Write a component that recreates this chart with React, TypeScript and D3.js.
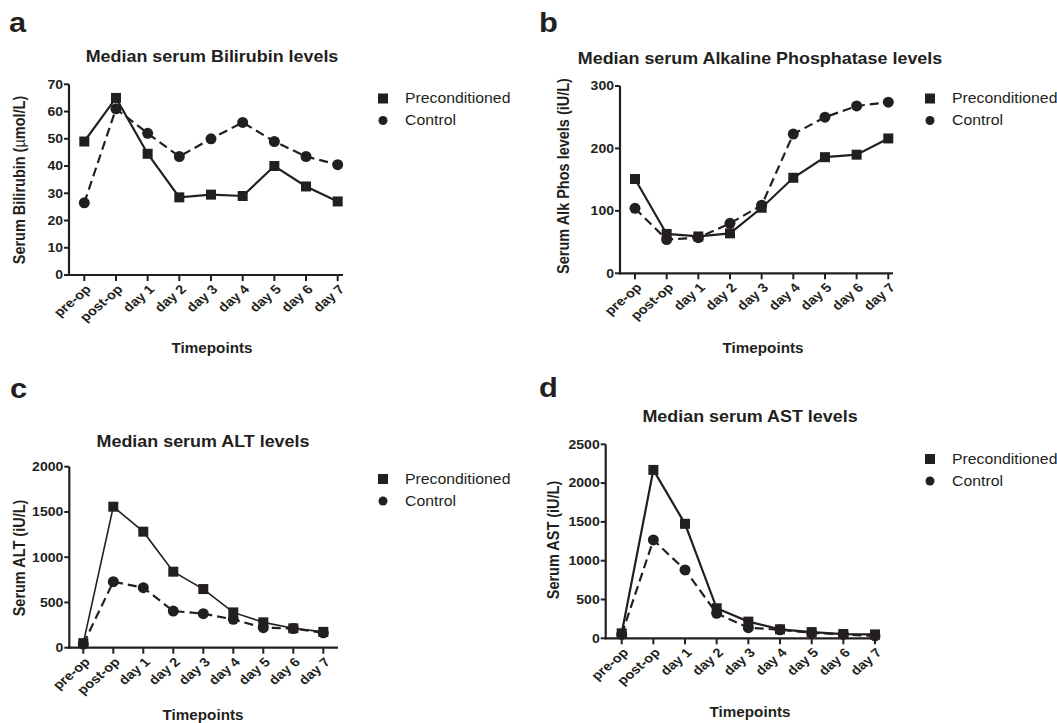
import React from "react";
import * as d3 from "d3";

const timepoints = ["pre-op", "post-op", "day 1", "day 2", "day 3", "day 4", "day 5", "day 6", "day 7"];

const biliPre = [49, 65, 44.5, 28.5, 29.5, 29, 40, 32.5, 27];
const biliCtl = [26.5, 61, 52, 43.5, 50, 56, 49, 43.5, 40.5];
const biliTicks = [0, 10, 20, 30, 40, 50, 60, 70];

const alkPre = [151, 63, 59, 64, 105, 153, 186, 190, 216];
const alkCtl = [104, 54, 57, 80, 109, 223, 250, 268, 274];
const alkTicks = [0, 100, 200, 300];

const altPre = [50, 1558, 1282, 840, 648, 390, 280, 214, 175];
const altCtl = [40, 729, 663, 405, 376, 313, 221, 212, 165];
const altTicks = [0, 500, 1000, 1500, 2000];

const astPre = [64, 2170, 1475, 387, 215, 116, 80, 55, 50];
const astCtl = [50, 1267, 881, 322, 137, 110, 70, 50, 30];
const astTicks = [0, 500, 1000, 1500, 2000, 2500];

const seriesNames = ["Preconditioned", "Control"];

const FONT = "'Liberation Sans', Arial, Helvetica, sans-serif";
const INK = "#231f20";
const SX = 1.15;

type TProps = {
  x: number;
  y: number;
  size: number;
  bold?: boolean;
  anchor?: "start" | "middle" | "end";
  rotate?: number;
  dy?: string;
  sx?: number;
  children: React.ReactNode;
};

function T({ x, y, size, bold, anchor = "start", rotate = 0, dy, sx = SX, children }: TProps) {
  return (
    <text
      transform={`translate(${x},${y}) scale(${sx},1) rotate(${rotate})`}
      fontSize={size}
      fontWeight={bold ? "bold" : "normal"}
      textAnchor={anchor}
      dy={dy}
      fill={INK}
    >
      {children}
    </text>
  );
}

type PanelProps = {
  letter: string;
  letterX: number;
  letterY: number;
  title: string;
  titleX: number;
  titleY: number;
  yLabel: React.ReactNode;
  yLabelX: number;
  yLabelY: number;
  xLabelX: number;
  xLabelY: number;
  axisX: number;
  top: number;
  bottom: number;
  firstX: number;
  lastX: number;
  endX: number;
  yMax: number;
  ticks: number[];
  pre: number[];
  ctl: number[];
  legendX: number;
  legendY: number;
  preWidth?: number;
};

function Panel(p: PanelProps) {
  const x = d3.scalePoint<string>().domain(timepoints).range([p.firstX, p.lastX]);
  const y = d3.scaleLinear().domain([0, p.yMax]).range([p.bottom, p.top]);
  const line = d3
    .line<number>()
    .x((_, i) => x(timepoints[i]) as number)
    .y((v) => y(v));
  const sq = 10;
  return (
    <g fontFamily={FONT}>
      <T x={p.letterX} y={p.letterY} size={28} bold sx={1.1}>
        {p.letter}
      </T>
      <T x={p.titleX} y={p.titleY} size={16} bold anchor="middle" sx={1.12}>
        {p.title}
      </T>
      <line x1={p.axisX} x2={p.axisX} y1={p.top} y2={p.bottom + 1} stroke={INK} strokeWidth={2.2} />
      <line x1={p.axisX - 1} x2={p.endX} y1={p.bottom} y2={p.bottom} stroke={INK} strokeWidth={2.2} />
      {p.ticks.map((t) => (
        <g key={t}>
          <line x1={p.axisX - 5} x2={p.axisX} y1={y(t)} y2={y(t)} stroke={INK} strokeWidth={2} />
          <T x={p.axisX - 6} y={y(t)} dy="0.36em" size={12} bold anchor="end" sx={1.17}>
            {t}
          </T>
        </g>
      ))}
      {timepoints.map((c) => {
        const cx = x(c) as number;
        return (
          <g key={c}>
            <line x1={cx} x2={cx} y1={p.bottom} y2={p.bottom + 6} stroke={INK} strokeWidth={2} />
            <T x={cx + 4} y={p.bottom + 12} size={12.5} bold anchor="end" rotate={-45} dy="0.35em" sx={1.17}>
              {c}
            </T>
          </g>
        );
      })}
      <T x={p.yLabelX} y={p.yLabelY} size={14.5} bold anchor="middle" rotate={-90} dy="0.35em" sx={1.12}>
        {p.yLabel}
      </T>
      <T x={p.xLabelX} y={p.xLabelY} size={14.5} bold anchor="middle" dy="0.35em" sx={1.05}>
        Timepoints
      </T>
      <path d={line(p.ctl) || ""} fill="none" stroke={INK} strokeWidth={2.2} strokeDasharray="9,5" />
      <path d={line(p.pre) || ""} fill="none" stroke={INK} strokeWidth={p.preWidth ?? 2.2} />
      {p.ctl.map((v, i) => (
        <circle key={"c" + i} cx={x(timepoints[i]) as number} cy={y(v)} r={5.5} fill={INK} />
      ))}
      {p.pre.map((v, i) => (
        <rect
          key={"s" + i}
          x={(x(timepoints[i]) as number) - sq / 2}
          y={y(v) - sq / 2}
          width={sq}
          height={sq}
          fill={INK}
        />
      ))}
      <rect x={p.legendX - 5} y={p.legendY - 5} width={10} height={10} fill={INK} />
      <circle cx={p.legendX} cy={p.legendY + 22} r={4.5} fill={INK} />
      <T x={p.legendX + 22} y={p.legendY} dy="0.35em" size={14} sx={1.13}>
        {seriesNames[0]}
      </T>
      <T x={p.legendX + 22} y={p.legendY + 22} dy="0.35em" size={14} sx={1.13}>
        {seriesNames[1]}
      </T>
    </g>
  );
}

export default function App() {
  return (
    <svg width={1057} height={723} style={{ position: "absolute", left: 0, top: 0, background: "#fff" }}>
      <rect width={1057} height={723} fill="#fff" />
      <Panel
        letter="a"
        letterX={9}
        letterY={32}
        title="Median serum Bilirubin levels"
        titleX={212}
        titleY={62}
        yLabel={<>Serum Bilirubin (<tspan fontWeight="normal">µ</tspan>mol/L)</>}
        yLabelX={19}
        yLabelY={180}
        xLabelX={212}
        xLabelY={348}
        axisX={69}
        top={84.3}
        bottom={275}
        firstX={84.3}
        lastX={337.7}
        endX={343}
        yMax={70}
        ticks={biliTicks}
        pre={biliPre}
        ctl={biliCtl}
        legendX={383}
        legendY={98.5}
      />
      <Panel
        letter="b"
        letterX={539}
        letterY={32}
        title="Median serum Alkaline Phosphatase levels"
        titleX={760}
        titleY={64}
        yLabel="Serum Alk Phos levels (iU/L)"
        yLabelX={563}
        yLabelY={176}
        xLabelX={763}
        xLabelY={348}
        axisX={620}
        top={86}
        bottom={273.3}
        firstX={635}
        lastX={888.3}
        endX={893}
        yMax={300}
        ticks={alkTicks}
        pre={alkPre}
        ctl={alkCtl}
        legendX={930}
        legendY={98.5}
      />
      <Panel
        letter="c"
        letterX={10}
        letterY={398}
        title="Median serum ALT levels"
        titleX={203}
        titleY={447}
        yLabel="Serum ALT (iU/L)"
        yLabelX={19}
        yLabelY={558}
        xLabelX={203}
        xLabelY={715}
        axisX={69.3}
        top={466.7}
        bottom={647.7}
        firstX={83.3}
        lastX={323.3}
        endX={338}
        yMax={2000}
        ticks={altTicks}
        pre={altPre}
        ctl={altCtl}
        legendX={383}
        legendY={479}
        preWidth={1.6}
      />
      <Panel
        letter="d"
        letterX={539}
        letterY={397}
        title="Median serum AST levels"
        titleX={750}
        titleY={422}
        yLabel="Serum AST (iU/L)"
        yLabelX={553}
        yLabelY={540}
        xLabelX={750}
        xLabelY={712}
        axisX={605.7}
        top={444.3}
        bottom={638.3}
        firstX={621.7}
        lastX={875}
        endX={880}
        yMax={2500}
        ticks={astTicks}
        pre={astPre}
        ctl={astCtl}
        legendX={930}
        legendY={459}
      />
    </svg>
  );
}
